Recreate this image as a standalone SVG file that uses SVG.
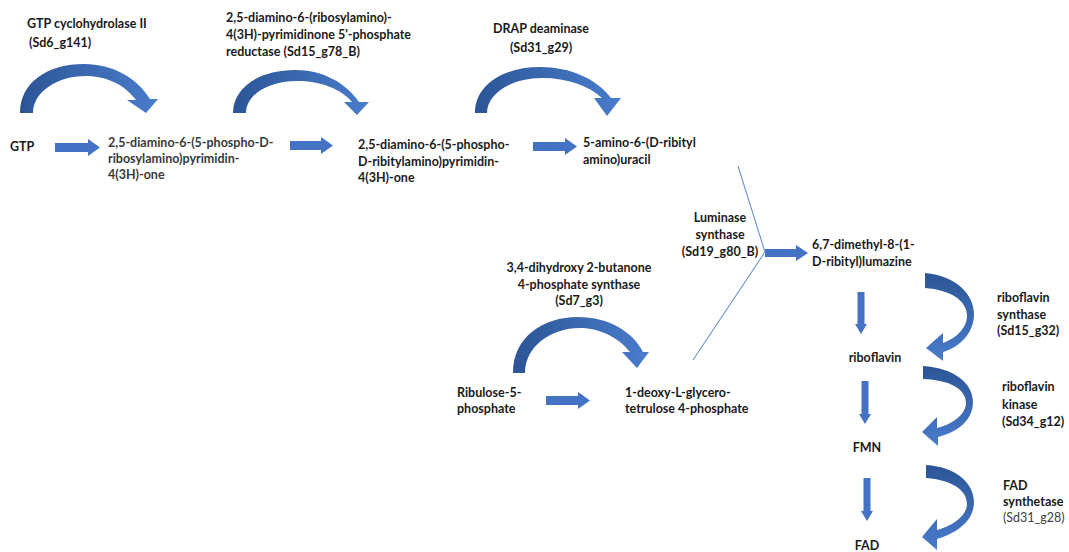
<svg xmlns="http://www.w3.org/2000/svg" width="1069" height="552" viewBox="0 0 1069 552">
<defs>
<linearGradient id="gh" x1="0" y1="0" x2="1" y2="0">
<stop offset="0" stop-color="#2c5596"/><stop offset="1" stop-color="#4a7ccc"/>
</linearGradient>
<linearGradient id="gv" x1="0" y1="0" x2="0" y2="1">
<stop offset="0" stop-color="#2c5596"/><stop offset="1" stop-color="#4a7ccc"/>
</linearGradient>
<style>
text{font-family:Lato,"Liberation Sans",sans-serif;font-size:12.5px;font-weight:700;fill:#1a1a1a}
.n{fill:#3a3a3a}
.c{text-anchor:middle}
.r{font-weight:400;fill:#404040}
.blk{fill:#4472c4}
.ch{fill:url(#gh)}
.cv{fill:url(#gv)}
.ln{stroke:#6d93d6;stroke-width:1.1;fill:none}
</style>
</defs>
<rect width="1069" height="552" fill="#ffffff"/>
<g id="connectors">
<path class="ch" d="M20,113 C20,82 48,64 84,64 C113,64 137,78 150,99 L158,99 L146,113 L127,100 L136,100 C125,85 107,76 86,76 C57,76 33,92 33,113 Z"/>
<path class="ch" d="M233,113 C233,87 260,70 295,70 C323,70 346,83 359,102 L369,102 L357,115 L344,102 L352,102 C341,89 321,81 297,81 C268,81 246,95 246,113 Z"/>
<path class="ch" d="M475,113 C475,85 503,67 540,67 C570,67 597,79 611,98 L621,98 L607,116 L594,98 L602,98 C589,86 568,78 542,78 C511,78 487,94 487,113 Z"/>
<path class="ch" d="M513,373 C513,337 543,317 578,317 C609,317 633,332 643,352 L649,352 L637,368 L622,352 L630,352 C619,338 600,328 580,328 C550,328 525,347 525,373 Z"/>
<path class="blk" d="M55,143 L88,143 L88,139 L100,147.5 L88,156 L88,152 L55,152 Z"/>
<path class="blk" d="M290,141 L321,141 L321,137 L333,145.5 L321,154 L321,150 L290,150 Z"/>
<path class="blk" d="M533,142 L565,142 L565,138 L577,146.5 L565,155 L565,151 L533,151 Z"/>
<path class="blk" d="M546,396 L578,396 L578,392 L590,400.5 L578,409 L578,405 L546,405 Z"/>
<path class="blk" d="M765,249 L796,249 L796,245 L808,253 L796,261 L796,257 L765,257 Z"/>
<path class="blk" d="M857.5,292 L864.5,292 L864.5,324 L867,324 L861,334 L855,324 L857.5,324 Z"/>
<path class="blk" d="M861.5,381 L868.5,381 L868.5,414 L871,414 L865,424 L859,414 L861.5,414 Z"/>
<path class="blk" d="M863.5,478 L870.5,478 L870.5,511 L873,511 L867,521 L861,511 L863.5,511 Z"/>
<path class="ln" d="M738,166 L765,252 L693,360"/>
<path class="cv" d="M925,273 C957,276 974,295 974,314 C974,333 960,347 943,352 L943,361 L926,348 L943,333 L943,343 C957,338 967,327 967,316 C967,300 950,290 925,288 Z"/>
<path class="cv" d="M923,366 C955,368 973,384 973,402 C973,420 958,432 938,437 L938,446 L922,432 L937,417 L937,428 C953,424 966,414 966,403 C966,389 950,380 923,379 Z"/>
<path class="cv" d="M926,465 C957,467 974,484 974,502 C974,521 957,533 937,539 L937,550 L922,537 L937,519 L937,530 C952,526 967,516 967,504 C967,490 952,480 926,478 Z"/>
</g>
<g id="enz-gtpch">
<text x="27" y="28">GTP cyclohydrolase II</text>
<text x="29" y="47">(Sd6_g141)</text>
</g>
<g id="enz-reductase">
<text x="226" y="22">2,5-diamino-6-(ribosylamino)-</text>
<text x="226" y="39">4(3H)-pyrimidinone 5'-phosphate</text>
<text x="226" y="56">reductase (Sd15_g78_B)</text>
</g>
<g id="enz-drap">
<text class="c" x="541" y="33">DRAP deaminase</text>
<text class="c" x="541" y="52">(Sd31_g29)</text>
</g>
<g id="node-gtp"><text x="10" y="151">GTP</text></g>
<g id="node-dapr">
<text class="n" x="108" y="147">2,5-diamino-6-(5-phospho-D-</text>
<text class="n" x="108" y="163">ribosylamino)pyrimidin-</text>
<text class="n" x="108" y="179">4(3H)-one</text>
</g>
<g id="node-darp">
<text x="358" y="149">2,5-diamino-6-(5-phospho-</text>
<text x="358" y="166">D-ribitylamino)pyrimidin-</text>
<text x="358" y="182">4(3H)-one</text>
</g>
<g id="node-arau">
<text x="583" y="147">5-amino-6-(D-ribityl</text>
<text x="583" y="164">amino)uracil</text>
</g>
<g id="enz-lumazine">
<text class="c" x="720" y="222">Luminase</text>
<text class="c" x="720" y="239">synthase</text>
<text class="c" x="720" y="256">(Sd19_g80_B)</text>
</g>
<g id="node-lumazine">
<text x="812" y="249">6,7-dimethyl-8-(1-</text>
<text x="812" y="266">D-ribityl)lumazine</text>
</g>
<g id="enz-dhbps">
<text class="c" x="579" y="272">3,4-dihydroxy 2-butanone</text>
<text class="c" x="579" y="289">4-phosphate synthase</text>
<text class="c" x="579" y="305">(Sd7_g3)</text>
</g>
<g id="node-ribulose">
<text x="457" y="397">Ribulose-5-</text>
<text x="457" y="413">phosphate</text>
</g>
<g id="node-deoxy">
<text x="625" y="397">1-deoxy-L-glycero-</text>
<text x="625" y="413">tetrulose 4-phosphate</text>
</g>
<g id="enz-ribsyn">
<text x="997" y="302">riboflavin</text>
<text x="997" y="319">synthase</text>
<text x="997" y="335">(Sd15_g32)</text>
</g>
<g id="node-riboflavin"><text class="c" x="875" y="362">riboflavin</text></g>
<g id="enz-ribkin">
<text x="1002" y="391">riboflavin</text>
<text x="1002" y="409">kinase</text>
<text x="1002" y="426">(Sd34_g12)</text>
</g>
<g id="node-fmn"><text class="c" x="867" y="452">FMN</text></g>
<g id="enz-fad">
<text x="1003" y="490">FAD</text>
<text x="1003" y="506">synthetase</text>
<text class="r" x="1003" y="522">(Sd31_g28)</text>
</g>
<g id="node-fad"><text class="c" x="867" y="550">FAD</text></g>
</svg>
